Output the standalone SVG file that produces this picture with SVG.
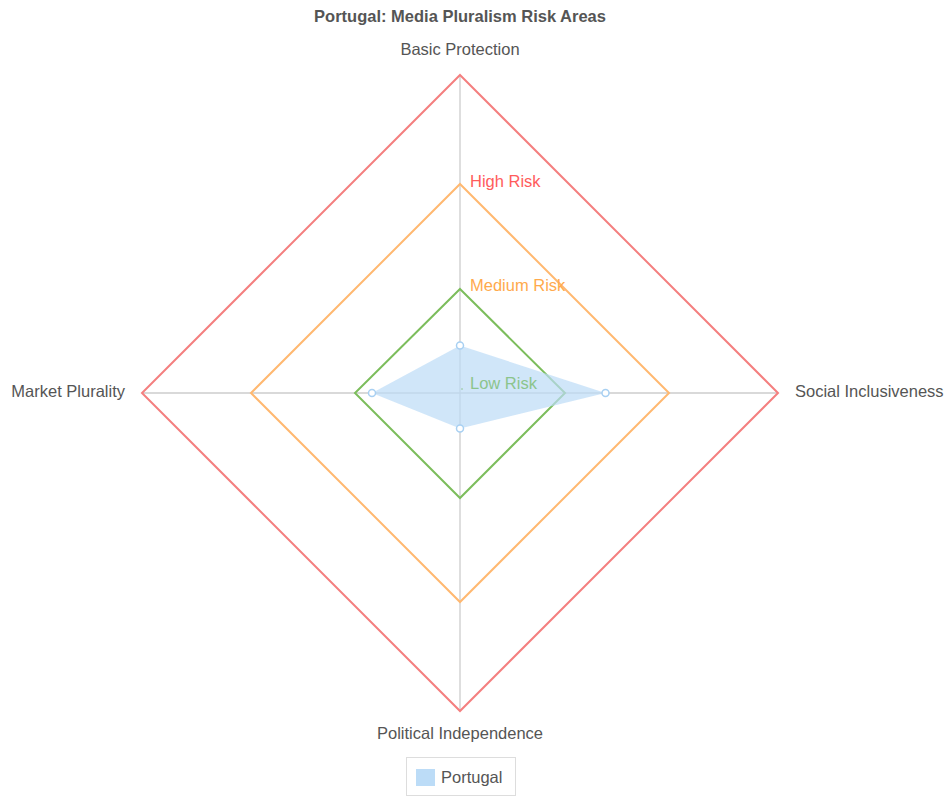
<svg xmlns="http://www.w3.org/2000/svg" width="946" height="798" viewBox="0 0 946 798">
<style>
text{font-family:"Liberation Sans",Arial,sans-serif}
.t{font-size:16.5px;font-weight:bold;fill:#555}
.ax{font-size:16.5px;fill:#555}
.ring{fill:none;stroke-width:2}
.grid{stroke:#cccccc;stroke-width:1.3}
.pt{fill:#fff;stroke:#a8d0f2;stroke-width:1.5}
</style>
<rect width="946" height="798" fill="#fff"/>
<text class="t" x="460" y="22" text-anchor="middle">Portugal: Media Pluralism Risk Areas</text>
<g id="grid">
<line class="grid" x1="460" y1="75" x2="460" y2="711"/>
<line class="grid" x1="142" y1="393" x2="778" y2="393"/>
</g>
<g id="rings">
<polygon class="ring" stroke="#f47f7f" points="460,75 778,393 460,711 142,393"/>
<polygon class="ring" stroke="#ffb870" points="460,184 669,393 460,602 251,393"/>
<polygon class="ring" stroke="#7cbd5c" points="460,289 565,393 460,498 355,393"/>
</g>
<g id="data">
<polygon points="460,345.5 605.5,393 460,428.5 372,393" fill="#bcdcf7" fill-opacity="0.7"/>
<circle class="pt" cx="460" cy="345.5" r="3.5"/>
<circle class="pt" cx="605.5" cy="393" r="3.5"/>
<circle class="pt" cx="460" cy="428.5" r="3.5"/>
<circle class="pt" cx="372" cy="393" r="3.5"/>
</g>
<g id="labels">
<text x="470" y="187" font-size="16.5" fill="#ff5c5c">High Risk</text>
<text x="470" y="291" font-size="16.5" fill="#ffaa4d">Medium Risk</text>
<circle cx="462" cy="389" r="0.8" fill="#8cc48c"/>
<text x="470" y="389" font-size="16.5" fill="#8cc48c">Low Risk</text>
</g>
<g id="axis-labels">
<text class="ax" x="460" y="55" text-anchor="middle">Basic Protection</text>
<text class="ax" x="795" y="397">Social Inclusiveness</text>
<text class="ax" x="460" y="739" text-anchor="middle">Political Independence</text>
<text class="ax" x="125" y="397" text-anchor="end">Market Plurality</text>
</g>
<g id="legend">
<rect x="406.5" y="757.5" width="109" height="38" fill="#fff" stroke="#ddd" stroke-width="1"/>
<rect x="416" y="769" width="19" height="17" fill="#bcdcf7"/>
<text class="ax" x="441" y="783" style="fill:#555">Portugal</text>
</g>
</svg>
